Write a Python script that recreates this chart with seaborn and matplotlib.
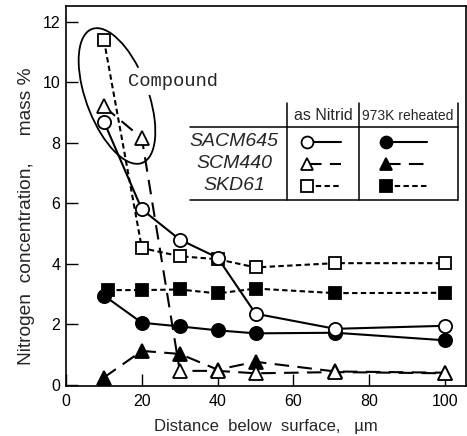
import numpy as np
import pandas as pd
import matplotlib
matplotlib.use("Agg")
import matplotlib.pyplot as plt
import seaborn as sns
from matplotlib.patches import Arc
from matplotlib.lines import Line2D

# Nitrogen profiles below the surface (distance in micrometres, N in mass %)
depth = [10, 20, 30, 40, 50, 71, 100]
depth_skd_reheated = [11, 20, 30, 40, 50, 71, 100]

sacm645_nitrided = [8.7, 5.8, 4.8, 4.2, 2.35, 1.85, 1.95]
sacm645_reheated = [2.95, 2.05, 1.93, 1.8, 1.7, 1.72, 1.47]
scm440_nitrided = [9.2, 8.15, 0.46, 0.46, 0.38, 0.42, 0.38]
scm440_reheated = [0.24, 1.12, 1.02, 0.5, 0.76, 0.44, 0.4]
skd61_nitrided = [11.4, 4.52, 4.25, 4.15, 3.88, 4.02, 4.02]
skd61_reheated = [3.13, 3.13, 3.15, 3.02, 3.18, 3.03, 3.04]

steels = ["SACM645", "SCM440", "SKD61"]
conditions = ["as Nitrid", "973K reheated"]
x_ticks = [0, 20, 40, 60, 80, 100]
y_ticks = [0, 2, 4, 6, 8, 10, 12]

sns.set_style("ticks")
plt.rcParams["font.family"] = ["Liberation Sans", "DejaVu Sans"]
plt.rcParams["xtick.direction"] = "in"
plt.rcParams["ytick.direction"] = "in"

W, H = 467, 436
fig = plt.figure(figsize=(W / 100, H / 100), dpi=100)
ax = fig.add_axes([66 / W, 1 - 385.7 / H, 400 / W, 379.7 / H])

solid = "-"
dashed = (0, (7, 4))
dotted = (0, (2.6, 1.6))

styles = {
    "SACM645": dict(marker="o", ls=solid, ms=9.5),
    "SCM440": dict(marker="^", ls=dashed, ms=10),
    "SKD61": dict(marker="s", ls=dotted, ms=9),
}

def draw(x, y, steel, filled):
    st = styles[steel]
    sns.lineplot(x=x, y=y, ax=ax, sort=False, color="black",
                 linewidth=1.5, linestyle=st["ls"], marker=st["marker"],
                 markersize=st["ms"], mfc="black" if filled else "white",
                 mec="black", mew=1.3, zorder=3 if filled else 4)

draw(depth, sacm645_reheated, "SACM645", True)
draw(depth, scm440_reheated, "SCM440", True)
draw(depth_skd_reheated, skd61_reheated, "SKD61", True)
draw(depth, skd61_nitrided, "SKD61", False)
draw(depth, scm440_nitrided, "SCM440", False)
draw(depth, sacm645_nitrided, "SACM645", False)

ax.set_xlim(0, 105.5)
ax.set_ylim(-0.03, 12.52)
ax.set_xticks(x_ticks)
ax.set_yticks(y_ticks)
ax.tick_params(length=8.5, width=1.0, labelsize=11.5,
               top=False, right=False, colors="black")
ax.tick_params(axis="x", pad=6)
ax.tick_params(axis="y", pad=4)
for sp in ax.spines.values():
    sp.set_visible(True)
    sp.set_linewidth(1.2)
    sp.set_color("black")
ax.set_xlabel("Distance  below  surface,   \u00b5m", fontsize=12, labelpad=7)
ax.set_ylabel("Nitrogen  concentration,     mass %", fontsize=13.8)
ax.yaxis.set_label_coords(-0.078, 0.447)

# Overlay in pixel units for the key table and the compound-layer outline
ov = fig.add_axes([0, 0, 1, 1], zorder=5)
ov.set_xlim(0, W)
ov.set_ylim(0, H)
ov.axis("off")
ov.patch.set_visible(False)

def py(y_img):
    return H - y_img

# compound-layer outline, left open where the label sits
ov.add_patch(Arc((117, py(96)), 62, 143, angle=20.5, theta1=32.5,
                 theta2=341.3, color="black", lw=1.3))
ov.text(128, py(82), "Compound", family=["Liberation Mono", "DejaVu Sans Mono"],
        fontsize=13.5, va="center", ha="left")

# key table
lk = dict(color="black", lw=1.1)
ov.add_line(Line2D([190, 458], [py(127), py(127)], **lk))
ov.add_line(Line2D([190, 458], [py(200), py(200)], **lk))
for xv in (287, 359, 458):
    ov.add_line(Line2D([xv, xv], [py(103), py(200)], **lk))

ov.text(323, py(116), conditions[0], fontsize=11.5, ha="center", va="center")
ov.text(408, py(116), conditions[1], fontsize=10, ha="center", va="center")

row_y = [142, 164, 186]
for steel, yy in zip(steels, row_y):
    ov.text(234, py(yy), steel, fontsize=14, style="italic",
            ha="center", va="center")
    st = styles[steel]
    for x0, x1, filled in ((307, 341, False), (386, 427, True)):
        ov.plot([x0, x1], [py(yy), py(yy)], color="black", lw=1.5,
                linestyle=st["ls"], marker=st["marker"], markevery=[0],
                markersize=st["ms"] * 0.9,
                mfc="black" if filled else "white", mec="black", mew=1.3)

fig.savefig("out.png", dpi=100, facecolor="white")
